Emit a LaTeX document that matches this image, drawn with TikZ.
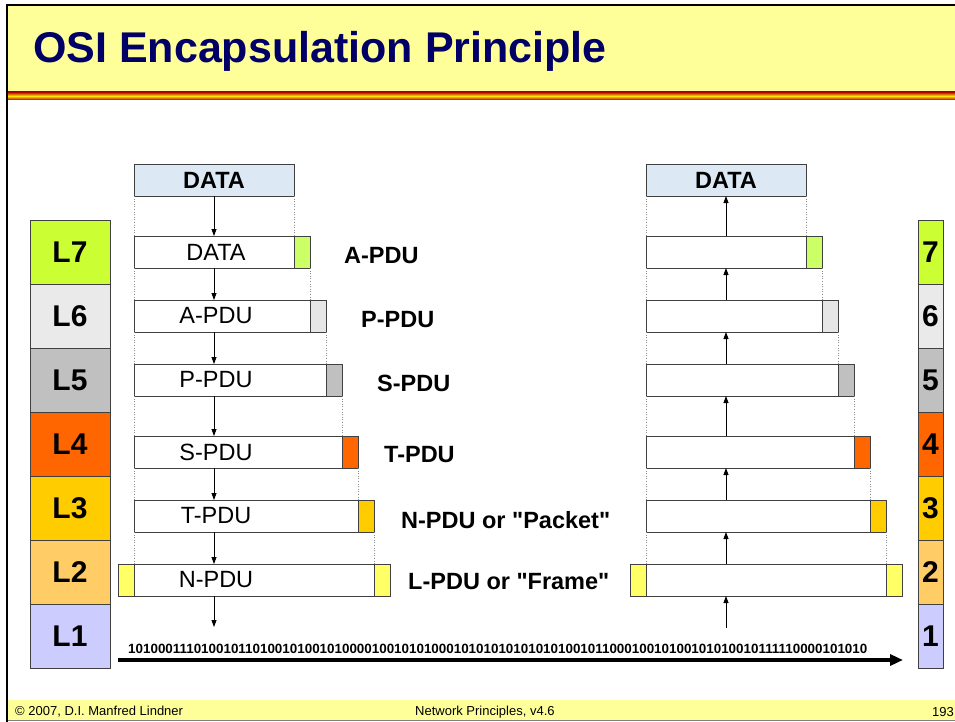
\documentclass[tikz,border=0pt]{standalone}
\usepackage{fontspec}
\setmainfont{Liberation Sans}
\usetikzlibrary{positioning,arrows.meta}
\definecolor{slidebg}{HTML}{FFFF99}
\definecolor{titleblue}{HTML}{000066}
\definecolor{lay7}{HTML}{CCFF33}
\definecolor{lay6}{HTML}{EAEAEA}
\definecolor{lay5}{HTML}{C0C0C0}
\definecolor{lay4}{HTML}{FF6600}
\definecolor{lay3}{HTML}{FFCC00}
\definecolor{lay2}{HTML}{FFCC66}
\definecolor{lay1}{HTML}{CCCCFF}
\definecolor{hdr7}{HTML}{CCFF66}
\definecolor{hdr6}{HTML}{E6E6E6}
\definecolor{hdr5}{HTML}{C0C0C0}
\definecolor{hdr4}{HTML}{FF6600}
\definecolor{hdr3}{HTML}{FFCC00}
\definecolor{hdr2}{HTML}{FFFF66}
\definecolor{datablue}{HTML}{DCE8F4}

\begin{document}
\begin{tikzpicture}[x=1pt,y=-1pt,
    layer/.style={draw=black!75,line width=0.8pt,minimum width=80,minimum height=64,inner sep=0pt,font=\bfseries\fontsize{30}{30}\selectfont},
    num/.style={layer,minimum width=25},
    body/.style={draw=black!75,line width=0.8pt,fill=white,minimum height=32,inner sep=0pt,outer sep=0pt,anchor=west},
    hdr/.style={draw=black!75,line width=0.8pt,minimum width=16,minimum height=32,inner sep=0pt,outer sep=0pt},
    pdu/.style={inner sep=0pt,font=\fontsize{23.5}{26}\selectfont},
    pduname/.style={anchor=west,inner sep=0pt,font=\bfseries\fontsize{23.5}{26}\selectfont},
    flow/.style={-{Triangle[length=7pt,width=5pt]},line width=0.8pt},
    guide/.style={black!45,dotted,line width=0.6pt},
    foot/.style={anchor=west,inner sep=0pt,font=\fontsize{13}{15}\selectfont}]

        \useasboundingbox (0,0) rectangle (955,722);
        \fill[white] (0,0) rectangle (955,722);
        \fill[slidebg] (7,5) rectangle (955,92);
        \shade[top color=red!70!black,bottom color=red!70!black,middle color=yellow!80!orange] (7,92) rectangle (955,100);
        \fill[slidebg] (7,700) rectangle (955,720);
        \draw[black!50] (7,720.5) -- (955,720.5);
        \draw[line width=2pt] (7,722) -- (7,5) -- (955,5);

        \node[anchor=base west,inner sep=0pt,text=titleblue,font=\bfseries\fontsize{43}{46}\selectfont] (title) at (33,63) {OSI Encapsulation Principle};

        \foreach \n/\c/\y in {7/lay7/252,6/lay6/316,5/lay5/380,4/lay4/444,3/lay3/508,2/lay2/572,1/lay1/636}{
            \node[layer,fill=\c] (L\n) at (70,\y) {L\n};
            \node[num,fill=\c] (R\n) at (930.5,\y) {\n};
        }

        \node[body,fill=datablue,minimum width=160,font=\bfseries\fontsize{23.5}{26}\selectfont] (dataL) at (134,180) {DATA};
        \node[body,fill=datablue,minimum width=160,font=\bfseries\fontsize{23.5}{26}\selectfont] (dataR) at (646,180) {DATA};

        \foreach \n/\w/\y/\txt in {7/160/252/DATA,6/176/316/A-PDU,5/192/380/P-PDU,4/208/452/S-PDU,3/224/516/T-PDU,2/240/580/N-PDU}{
            \node[body,minimum width=\w] (b\n) at (134,\y) {};
            \node[hdr,fill=hdr\n,right=0pt of b\n] (h\n) {};
            \node[pdu] (t\n) at (216,\y) {\txt};
            \node[body,minimum width=\w] (rb\n) at (646,\y) {};
            \node[hdr,fill=hdr\n,right=0pt of rb\n] (rh\n) {};
        }
        \node[hdr,fill=hdr2,left=0pt of b2] (f2) {};
        \node[hdr,fill=hdr2,left=0pt of rb2] (rf2) {};

        \node[pduname] (n7) at (344,256) {A-PDU};
        \node[pduname] (n6) at (361,320) {P-PDU};
        \node[pduname] (n5) at (377,383) {S-PDU};
        \node[pduname] (n4) at (384,455) {T-PDU};
        \node[pduname] (n3) at (401,520) {N-PDU or \textquotedbl Packet\textquotedbl};
        \node[pduname] (n2) at (408,582) {L-PDU or \textquotedbl Frame\textquotedbl};

        \draw[guide] (dataL.south west) -- (b7.north west);
        \draw[guide] (dataL.south east) -- (b7.north east);
        \draw[guide] (dataR.south west) -- (rb7.north west);
        \draw[guide] (dataR.south east) -- (rb7.north east);
        \foreach \a/\b in {7/6,6/5,5/4,4/3,3/2}{
            \draw[guide] (b\a.south west) -- (b\b.north west);
            \draw[guide] (h\a.south east) -- (b\b.north east);
            \draw[guide] (rb\a.south west) -- (rb\b.north west);
            \draw[guide] (rh\a.south east) -- (rb\b.north east);
        }

        \draw[flow] (dataL.south) -- (dataL.south |- b7.north);
        \draw[flow] (dataR.south |- rb7.north) -- (dataR.south);
        \foreach \a/\b in {7/6,6/5,5/4,4/3,3/2}{
            \draw[flow] (dataL.south |- b\a.south) -- (dataL.south |- b\b.north);
            \draw[flow] (dataR.south |- rb\b.north) -- (dataR.south |- rb\a.south);
        }
        \coordinate (downend) at (214,627);
        \coordinate (upstart) at (726,628);
        \draw[flow] (dataL.south |- b2.south) -- (downend);
        \draw[flow] (upstart) -- (dataR.south |- rb2.south);

        \node[anchor=west,inner sep=0pt,font=\bfseries\fontsize{13.4}{15}\selectfont] (bits) at (128,649) {1010001110100101101001010010100001001010100010101010101010100101100010010100101010010111110000101010};
        \coordinate (wireL) at (118,660);
        \coordinate (wireR) at (903,660);
        \draw[line width=3.3pt,-{Triangle[length=13pt,width=11pt]}] (wireL) -- (wireR);

        \node[foot] (copy) at (15,712) {© 2007, D.I. Manfred Lindner};
        \node[foot] (course) at (415,712) {Network Principles, v4.6};
        \node[foot] (page) at (932,712) {193};
    \end{tikzpicture}
\end{document}
